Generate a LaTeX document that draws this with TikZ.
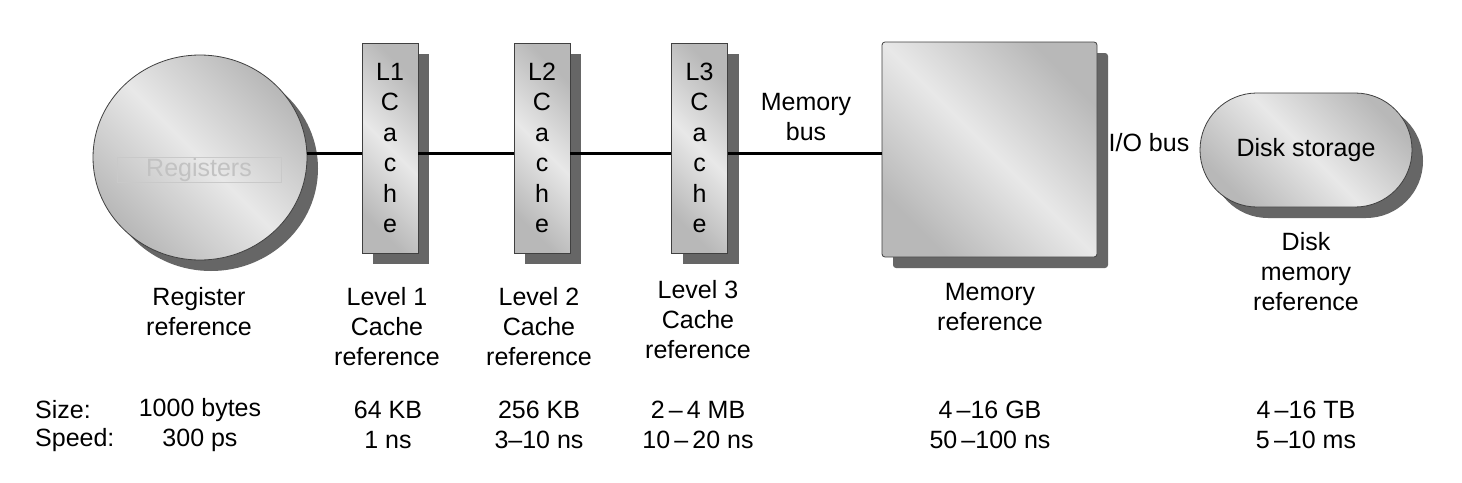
\documentclass[tikz,border=0pt]{standalone}
\usepackage{fontspec}
\setmainfont{Liberation Sans}
\usetikzlibrary{shapes.geometric,shadows}
\begin{document}
\begin{tikzpicture}[x=1pt,y=-1pt,
  every node/.style={font=\fontsize{25}{30}\selectfont, inner sep=0pt},
  shad/.style={drop shadow={shadow xshift=11pt,shadow yshift=-11pt,fill=black!60,opacity=1}},
  metal/.style={draw=black!75, line width=0.8pt, top color=black!28, bottom color=black!28, middle color=black!9, shading angle=-45},
  cachebox/.style={metal, shad, rectangle, minimum width=56pt, minimum height=210pt, align=center, font=\fontsize{25}{30.5}\selectfont},
  bus/.style={line width=3pt},
  lbl/.style={align=center}
]
\useasboundingbox[fill=white] (0,0) rectangle (1462,482);
\coordinate (busy) at (0,153);
% shapes
\node[metal, shad, ellipse, minimum width=214pt, minimum height=205pt] (reg) at (200,157.5) {};
\node[text=black!24, draw=black!21, line width=0.5pt, minimum width=164pt, minimum height=25pt] (regtxt) at (199,170) {Registers};
\node[cachebox] (l1) at (390,148) {L1\\C\\a\\c\\h\\e};
\node[cachebox] (l2) at (542,148) {L2\\C\\a\\c\\h\\e};
\node[cachebox] (l3) at (699.5,148) {L3\\C\\a\\c\\h\\e};
\node[metal, shad, rectangle, rounded corners=3pt, minimum width=215pt, minimum height=215pt] (mem) at (989.5,149.5) {};
\node[metal, shad, rectangle, rounded corners=56.9pt, minimum width=212pt, minimum height=114pt] (disk) at (1306,150) {Disk storage};
% bus connectors
\draw[bus] (reg.east |- busy) -- (l1.west |- busy);
\draw[bus] (l1.east |- busy) -- (l2.west |- busy);
\draw[bus] (l2.east |- busy) -- (l3.west |- busy);
\draw[bus] (l3.east |- busy) -- (mem.west |- busy);
% bus labels
\node[lbl] (membus) at (806,117) {Memory\\bus};
\node (iobus) at (1149,143) {I/O bus};
% reference labels
\node[lbl] (regref) at (199,312) {Register\\reference};
\node[lbl] (l1ref) at (387,327) {Level 1\\Cache\\reference};
\node[lbl] (l2ref) at (539,327) {Level 2\\Cache\\reference};
\node[lbl] (l3ref) at (698,320) {Level 3\\Cache\\reference};
\node[lbl] (memref) at (990,307) {Memory\\reference};
\node[lbl] (diskref) at (1306,272) {Disk\\memory\\reference};
% size / speed rows
\node[anchor=west] (sizelbl) at (35,410) {Size:};
\node[anchor=west] (speedlbl) at (35,440) {Speed:};
\node (s1) at (200,410) {1000 bytes};
\node (s2) at (388,410) {64 KB};
\node (s3) at (539,410) {256 KB};
\node (s4) at (698,410) {2\,–\,4 MB};
\node (s5) at (990,410) {4\,–16 GB};
\node (s6) at (1306,410) {4\,–16 TB};
\node (t1) at (200,440) {300 ps};
\node (t2) at (388,440) {1 ns};
\node (t3) at (539,440) {3–10 ns};
\node (t4) at (698,440) {10\,–\,20 ns};
\node (t5) at (990,440) {50\,–100 ns};
\node (t6) at (1306,440) {5\,–10 ms};
\end{tikzpicture}
\end{document}
